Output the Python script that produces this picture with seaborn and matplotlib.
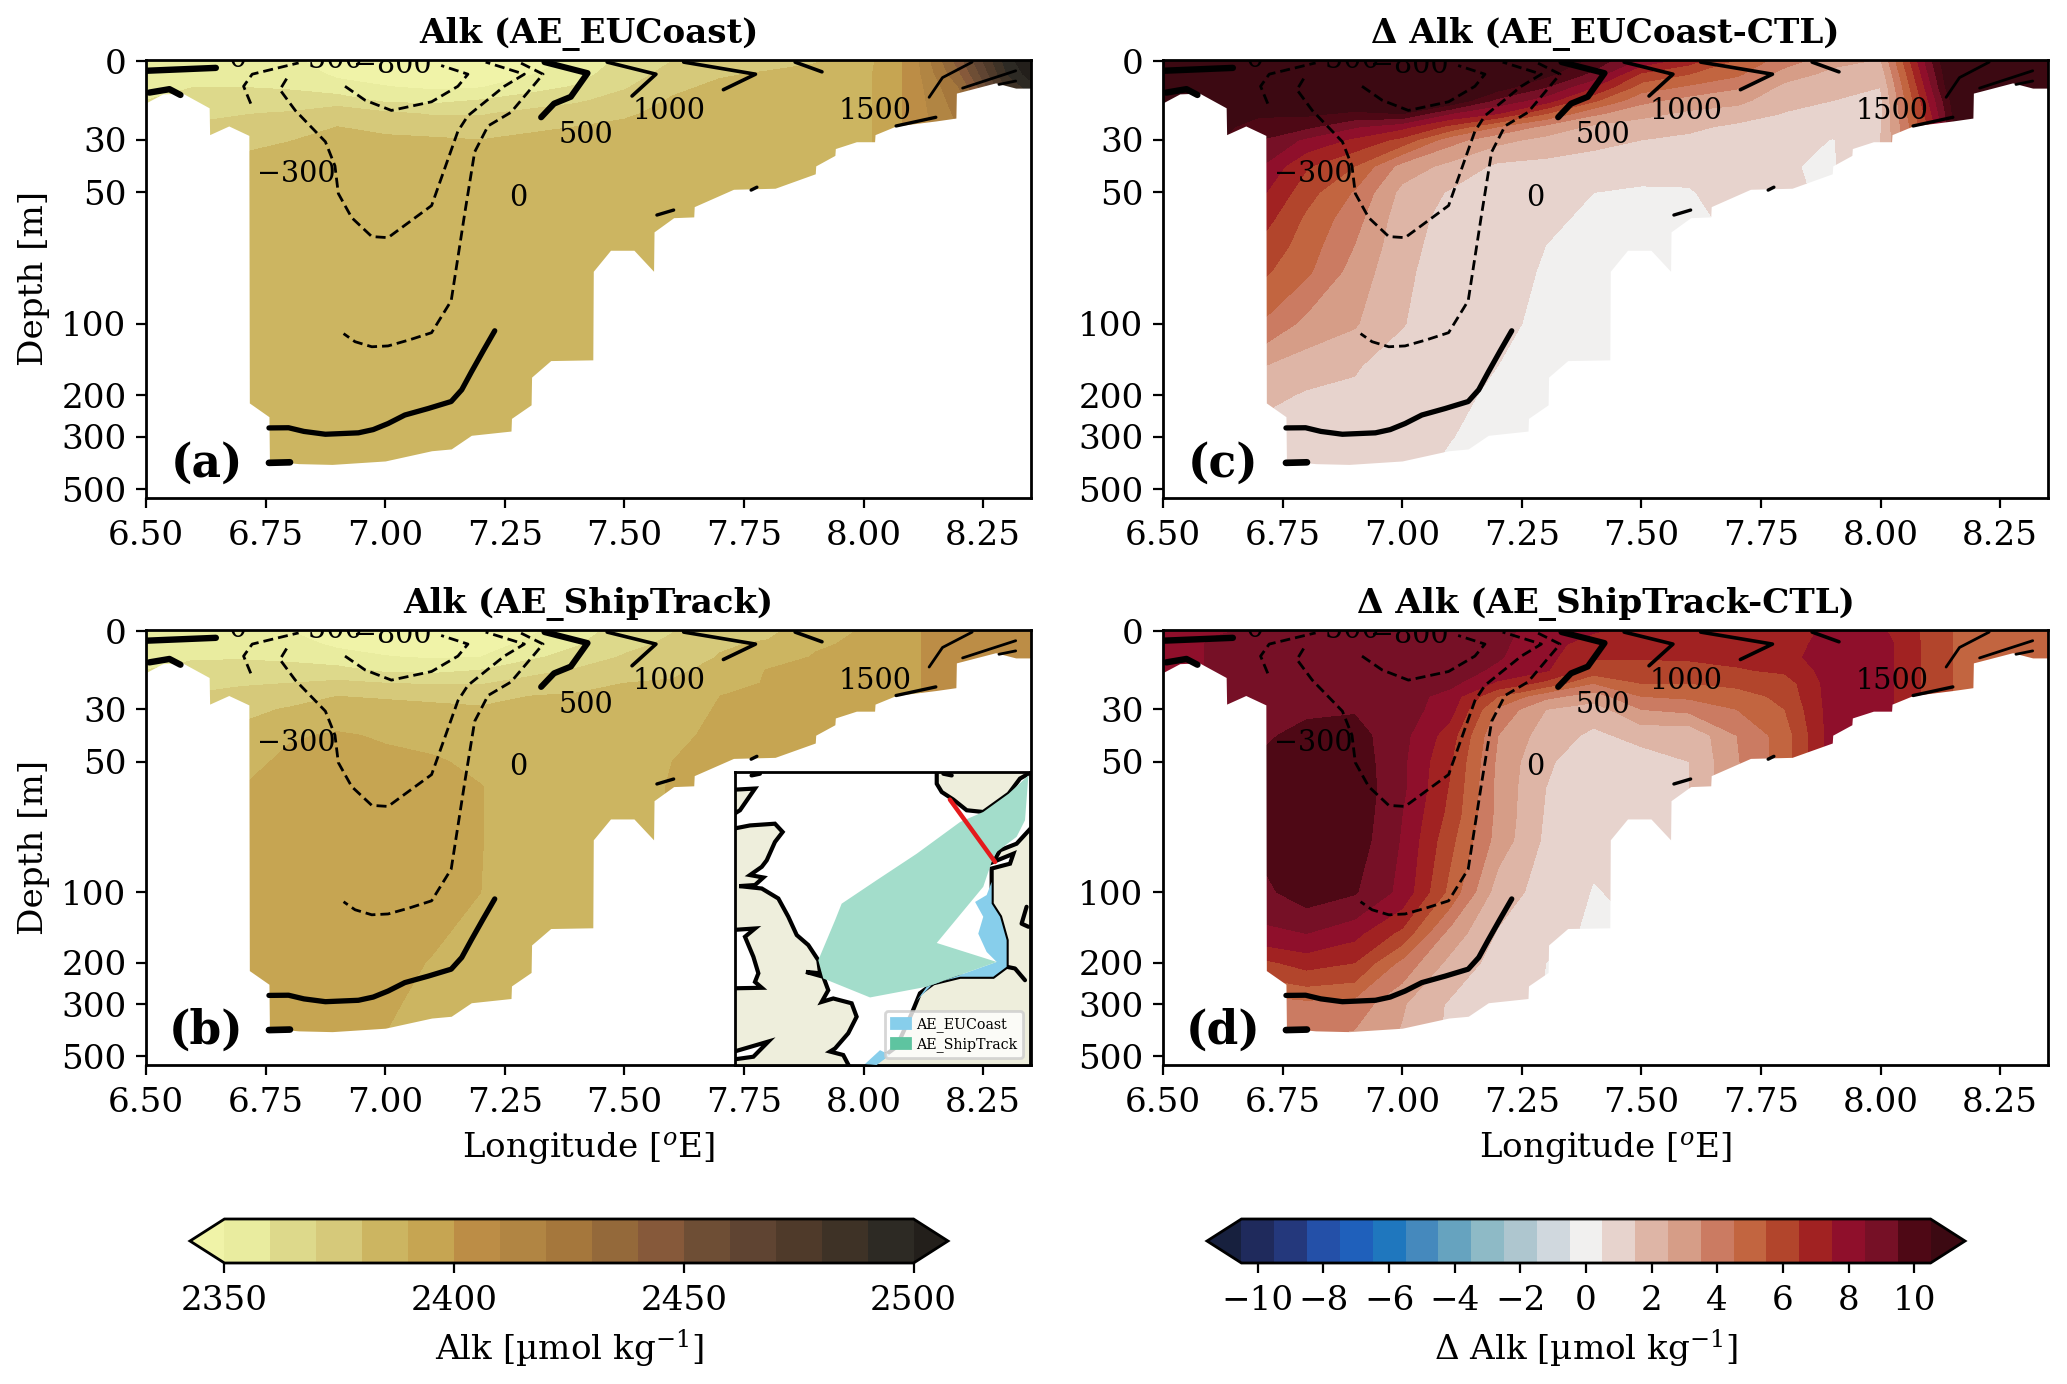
import matplotlib
matplotlib.use("Agg")
import matplotlib.pyplot as plt
from matplotlib.colors import BoundaryNorm, ListedColormap
from matplotlib.patches import Patch
import numpy as np
import seaborn as sns

# grid the sections are read on
lons = [6.5, 6.6, 6.7, 6.8, 6.9, 7.0, 7.1, 7.2, 7.3, 7.4, 7.5, 7.6, 7.7, 7.8, 7.9, 8.0, 8.1, 8.2, 8.3, 8.35]
depths = [0, 5, 10, 15, 20, 25, 30, 40, 50, 60, 70, 80, 100, 150, 200, 300, 400, 550]

# one row per longitude, one value per depth
alk_eucoast = [
    [2355, 2356, 2358, 2360, 2363, 2368, 2372, 2378, 2384, 2385, 2385, 2385, 2385, 2385, 2385, 2385, 2385, 2385],
    [2355, 2357, 2360, 2364, 2368, 2371, 2376, 2381, 2384, 2385, 2385, 2385, 2385, 2385, 2385, 2385, 2385, 2385],
    [2354, 2357, 2360, 2365, 2369.5, 2373, 2378, 2382, 2384, 2385, 2385, 2385, 2385, 2385, 2385, 2385, 2385, 2385],
    [2352, 2356, 2359, 2364, 2371, 2376, 2379.7, 2384, 2385, 2385, 2385, 2385, 2385, 2385, 2385, 2385, 2385, 2385],
    [2345, 2348, 2354, 2365, 2376, 2380, 2382, 2385, 2385, 2385, 2385, 2385, 2385, 2385, 2385, 2385, 2385, 2385],
    [2343, 2346, 2350.5, 2358, 2372, 2377, 2382, 2385, 2385, 2385, 2385, 2385, 2385, 2385, 2385, 2385, 2385, 2385],
    [2343, 2346, 2348.5, 2357, 2369, 2376, 2381, 2385, 2385, 2385, 2385, 2385, 2385, 2385, 2385, 2385, 2385, 2385],
    [2343, 2346, 2349.5, 2360.5, 2369, 2375, 2380, 2385, 2385, 2385, 2385, 2385, 2385, 2385, 2385, 2385, 2385, 2385],
    [2345, 2349, 2356.5, 2364, 2373, 2378, 2382, 2385, 2385, 2385, 2385, 2385, 2385, 2385, 2385, 2385, 2385, 2385],
    [2352, 2356, 2361, 2368.5, 2375, 2380, 2383, 2385, 2385, 2385, 2385, 2385, 2385, 2385, 2385, 2385, 2385, 2385],
    [2363, 2366, 2369, 2374, 2378.5, 2382, 2384, 2385, 2385, 2385, 2385, 2385, 2385, 2385, 2385, 2385, 2385, 2385],
    [2370, 2373, 2378, 2381, 2383, 2384, 2385, 2385, 2385, 2385, 2385, 2385, 2385, 2385, 2385, 2385, 2385, 2385],
    [2374, 2379, 2382, 2383, 2384, 2385, 2385, 2385, 2385, 2385, 2385, 2385, 2385, 2385, 2385, 2385, 2385, 2385],
    [2377, 2381, 2383, 2384, 2385, 2385, 2385, 2385, 2385, 2385, 2385, 2385, 2385, 2385, 2385, 2385, 2385, 2385],
    [2379.5, 2382, 2384, 2385, 2385, 2385, 2385, 2385, 2385, 2385, 2385, 2385, 2385, 2385, 2385, 2385, 2385, 2385],
    [2386, 2387, 2387, 2387, 2387, 2387, 2387, 2387, 2387, 2387, 2387, 2387, 2387, 2387, 2387, 2387, 2387, 2387],
    [2403, 2403, 2403, 2403, 2403, 2403, 2403, 2403, 2403, 2403, 2403, 2403, 2403, 2403, 2403, 2403, 2403, 2403],
    [2445, 2438, 2430, 2426, 2423, 2420, 2420, 2420, 2420, 2420, 2420, 2420, 2420, 2420, 2420, 2420, 2420, 2420],
    [2495, 2490, 2480, 2470, 2470, 2470, 2470, 2470, 2470, 2470, 2470, 2470, 2470, 2470, 2470, 2470, 2470, 2470],
    [2510, 2505, 2495, 2490, 2490, 2490, 2490, 2490, 2490, 2490, 2490, 2490, 2490, 2490, 2490, 2490, 2490, 2490],
]

alk_shiptrack = [
    [2353, 2355, 2358, 2360, 2364, 2368, 2372, 2378, 2382, 2383, 2383, 2383, 2383, 2383, 2383, 2383, 2383, 2383],
    [2353, 2355, 2359, 2363, 2367, 2371, 2376, 2380, 2383, 2386, 2388, 2388, 2388, 2388, 2388, 2388, 2388, 2388],
    [2352, 2355, 2359, 2364, 2369, 2373, 2377, 2383, 2387, 2390, 2392, 2392, 2392, 2392, 2392, 2392, 2392, 2392],
    [2350, 2354, 2358, 2363, 2370, 2375, 2381, 2389, 2392, 2393, 2393, 2393, 2393, 2393, 2393, 2393, 2393, 2393],
    [2345, 2348, 2354, 2363, 2372, 2380, 2384, 2391, 2393, 2393, 2393, 2393, 2393, 2393, 2393, 2393, 2393, 2393],
    [2343, 2346, 2350.5, 2358, 2370, 2379, 2383, 2389, 2392, 2393, 2393, 2393, 2393, 2393, 2392.5, 2391, 2390, 2390],
    [2343, 2346, 2349, 2357, 2369, 2378, 2382, 2387, 2391, 2393, 2393, 2393, 2392.5, 2391, 2389.5, 2388, 2387, 2387],
    [2343, 2346, 2350, 2360, 2369, 2377, 2381, 2385, 2388, 2390.3, 2390.3, 2390.3, 2390, 2388, 2387, 2386, 2386, 2386],
    [2348, 2352, 2358, 2366, 2374, 2380, 2382, 2384, 2385, 2385, 2385, 2385, 2385, 2385, 2385, 2385, 2385, 2385],
    [2356, 2359, 2364, 2371, 2377, 2381, 2383, 2385, 2386, 2386, 2386, 2386, 2386, 2386, 2386, 2386, 2386, 2386],
    [2364, 2367, 2371, 2376, 2380, 2382, 2384, 2386, 2387, 2387, 2387, 2387, 2387, 2387, 2387, 2387, 2387, 2387],
    [2369.5, 2372, 2375, 2378, 2381, 2383, 2385, 2388, 2390, 2390.5, 2390.5, 2390.5, 2390.5, 2390.5, 2390.5, 2390.5, 2390.5, 2390.5],
    [2378, 2379, 2380.5, 2383, 2385, 2390, 2391, 2392, 2393, 2393, 2393, 2393, 2393, 2393, 2393, 2393, 2393, 2393],
    [2378, 2381, 2384, 2390.5, 2391, 2392, 2393, 2393, 2393, 2393, 2393, 2393, 2393, 2393, 2393, 2393, 2393, 2393],
    [2385, 2388.5, 2391, 2392, 2393, 2393, 2393, 2393, 2393, 2393, 2393, 2393, 2393, 2393, 2393, 2393, 2393, 2393],
    [2391, 2392, 2393, 2393, 2393, 2393, 2393, 2393, 2393, 2393, 2393, 2393, 2393, 2393, 2393, 2393, 2393, 2393],
    [2399, 2399, 2399, 2399, 2399, 2399, 2399, 2399, 2399, 2399, 2399, 2399, 2399, 2399, 2399, 2399, 2399, 2399],
    [2404, 2404, 2404, 2404, 2404, 2404, 2404, 2404, 2404, 2404, 2404, 2404, 2404, 2404, 2404, 2404, 2404, 2404],
    [2406, 2406, 2406, 2406, 2406, 2406, 2406, 2406, 2406, 2406, 2406, 2406, 2406, 2406, 2406, 2406, 2406, 2406],
    [2406, 2406, 2406, 2406, 2406, 2406, 2406, 2406, 2406, 2406, 2406, 2406, 2406, 2406, 2406, 2406, 2406, 2406],
]

dalk_eucoast = [
    [12, 12, 12, 12, 12, 11, 11, 10, 10, 10, 10, 10, 10, 10, 10, 10, 10, 10],
    [13, 13, 12.5, 12, 11.5, 11, 10.8, 10, 9, 8, 7, 6, 5, 3, 2, 1, 1, 1],
    [13, 13, 12, 11.5, 10.7, 10.0, 9.5, 8.6, 7.8, 7.1, 6.4, 5.8, 4.5, 2.6, 1.8, 1.1, 1, 1],
    [13, 13, 12.5, 11.5, 10.7, 9.7, 8.3, 6.6, 5.9, 5.3, 5.0, 4.7, 3.2, 1.9, 1.4, 1.1, 0.9, 0.9],
    [13, 13, 12.5, 11.5, 10.3, 8.6, 7.3, 5.5, 4.4, 3.9, 3.5, 3.1, 2.6, 1.6, 1.3, 1.0, 0.8, 0.8],
    [13, 13, 12.5, 11.5, 10.5, 7.8, 6.2, 3.1, 2.2, 1.9, 1.8, 1.7, 1.55, 1.0, 0.9, 0.8, 0.7, 0.7],
    [13, 12.5, 12, 11.5, 8.5, 6.2, 3.9, 2.2, 1.4, 1.2, 1.1, 1.0, 0.9, 0.8, 0.7, 0.52, 0.4, 0.4],
    [12.5, 12, 11, 9.2, 7.5, 4.5, 2.8, 1.3, 1.1, 1.0, 0.95, 0.9, 0.7, 0.5, 0.35, 0.3, 0.3, 0.3],
    [11.5, 10.8, 9.5, 8, 5.5, 3.2, 2.2, 1.2, 0.9, 0.7, 0.5, 0.4, 0.3, 0.3, 0.3, 0.3, 0.3, 0.3],
    [10.2, 9.2, 7.5, 5.7, 3.7, 2.3, 1.8, 1.05, 0.5, 0.3, 0.3, 0.3, 0.3, 0.3, 0.3, 0.3, 0.3, 0.3],
    [8.2, 6.3, 5.0, 3.8, 2.8, 2.0, 1.5, 0.65, 0.45, 0.3, 0.3, 0.3, 0.3, 0.3, 0.3, 0.3, 0.3, 0.3],
    [6.9, 5.5, 4.3, 3.1, 2.3, 1.7, 1.3, 0.7, 0.45, 0.3, 0.3, 0.3, 0.3, 0.3, 0.3, 0.3, 0.3, 0.3],
    [5.3, 4.7, 3.6, 2.8, 2.0, 1.3, 1.1, 0.9, 0.8, 0.7, 0.7, 0.7, 0.7, 0.7, 0.7, 0.7, 0.7, 0.7],
    [4.0, 3.0, 2.2, 1.8, 1.45, 1.2, 1.0, 0.55, 0.6, 0.6, 0.6, 0.6, 0.6, 0.6, 0.6, 0.6, 0.6, 0.6],
    [2.8, 2.2, 1.7, 1.5, 1.2, 0.9, 0.45, 0.4, 0.4, 0.4, 0.4, 0.4, 0.4, 0.4, 0.4, 0.4, 0.4, 0.4],
    [2.4, 1.9, 1.5, 1.3, 1.3, 1.4, 1.5, 1.5, 1.5, 1.5, 1.5, 1.5, 1.5, 1.5, 1.5, 1.5, 1.5, 1.5],
    [9, 8.5, 8, 7.5, 7, 6.5, 6, 6, 6, 6, 6, 6, 6, 6, 6, 6, 6, 6],
    [15, 15, 15, 14, 14, 14, 14, 14, 14, 14, 14, 14, 14, 14, 14, 14, 14, 14],
    [15, 15, 15, 15, 15, 15, 15, 15, 15, 15, 15, 15, 15, 15, 15, 15, 15, 15],
    [15, 15, 15, 15, 15, 15, 15, 15, 15, 15, 15, 15, 15, 15, 15, 15, 15, 15],
]

dalk_shiptrack = [
    [7.9, 7.9, 7.9, 7.9, 7.9, 7.9, 7.9, 7.9, 7.9, 7.9, 7.9, 7.9, 7.9, 7.9, 7.9, 7.9, 7.9, 7.9],
    [8.4, 8.6, 8.6, 8.6, 8.6, 8.7, 8.8, 9.0, 9.2, 9.4, 9.4, 9.4, 9.2, 8.3, 6.2, 4.0, 3.9, 3.9],
    [8.6, 8.7, 8.8, 8.9, 9.0, 9.0, 9.1, 9.3, 9.6, 9.8, 9.9, 9.7, 9.2, 8.2, 6.2, 4.0, 3.9, 3.8],
    [8.8, 8.9, 9.0, 9.0, 9.1, 9.2, 9.3, 9.8, 10.1, 10.2, 10.2, 10.2, 10.0, 8.5, 6.9, 4.2, 3.7, 3.6],
    [8.9, 8.9, 9.0, 9.0, 9.1, 9.2, 9.4, 9.9, 10.1, 10.2, 10.2, 10.1, 9.6, 7.8, 6.5, 4.1, 3.4, 3.4],
    [9, 9, 9, 9, 9, 9, 9, 8.8, 8.7, 8.7, 8.5, 8.4, 8.2, 6.2, 4.2, 2.6, 2.4, 2.4],
    [9, 9, 9, 9, 8.8, 8.1, 7.9, 7.0, 6.6, 6.4, 6.2, 5.8, 5.2, 3.1, 2.2, 1.35, 1.3, 1.3],
    [8.8, 8.7, 8.6, 8.3, 7.3, 5.5, 4.3, 3.5, 3.3, 3.2, 3.2, 3.1, 2.0, 1.4, 1.1, 0.9, 0.8, 0.8],
    [8, 7.9, 7.8, 7.6, 6.2, 3.8, 2.5, 2, 1.6, 1.5, 1.4, 1.3, 1.1, 0.7, 0.5, 0.45, 0.45, 0.45],
    [7.6, 7, 6.6, 6.1, 4.5, 3, 2, 1.3, 1.1, 1, 0.9, 0.7, 0.45, 0.4, 0.4, 0.4, 0.4, 0.4],
    [7.1, 7, 6.6, 6, 5.5, 4.5, 3.5, 1.8, 1.1, 1, 1, 0.9, 0.7, 0.5, 0.5, 0.5, 0.5, 0.5],
    [7, 7, 6.7, 6, 5.5, 4.7, 3.8, 1.7, 1.5, 1.5, 1.5, 1.5, 1.5, 1.5, 1.5, 1.5, 1.5, 1.5],
    [7, 7, 6.8, 6.4, 5.8, 5.0, 4.5, 3.5, 3.4, 3.4, 3.4, 3.4, 3.4, 3.4, 3.4, 3.4, 3.4, 3.4],
    [7.1, 7.2, 7.2, 6.7, 6.0, 5.8, 5.5, 5.0, 5.0, 5.0, 5.0, 5.0, 5.0, 5.0, 5.0, 5.0, 5.0, 5.0],
    [7.7, 7.8, 8, 8, 8, 8, 8, 8, 8, 8, 8, 8, 8, 8, 8, 8, 8, 8],
    [7.7, 8, 8, 8, 8, 8, 8, 8, 8, 8, 8, 8, 8, 8, 8, 8, 8, 8],
    [6.2, 6.2, 6.2, 6.2, 6.2, 6.2, 6.2, 6.2, 6.2, 6.2, 6.2, 6.2, 6.2, 6.2, 6.2, 6.2, 6.2, 6.2],
    [4.8, 4.8, 4.8, 4.8, 4.8, 4.8, 4.8, 4.8, 4.8, 4.8, 4.8, 4.8, 4.8, 4.8, 4.8, 4.8, 4.8, 4.8],
    [4.9, 4.9, 4.9, 4.9, 4.9, 4.9, 4.9, 4.9, 4.9, 4.9, 4.9, 4.9, 4.9, 4.9, 4.9, 4.9, 4.9, 4.9],
    [5, 5, 5, 5, 5, 5, 5, 5, 5, 5, 5, 5, 5, 5, 5, 5, 5, 5],
]

seabed_lon = [6.50, 6.535, 6.576, 6.632, 6.633, 6.673, 6.715, 6.716, 6.757, 6.758, 6.819, 6.889, 7.0, 7.097, 7.138,
              7.18, 7.263, 7.264, 7.305, 7.306, 7.346, 7.434, 7.435, 7.471, 7.52, 7.561, 7.562, 7.603, 7.645, 7.646,
              7.728, 7.815, 7.899, 7.90, 7.94, 7.941, 7.985, 8.023, 8.024, 8.068, 8.151, 8.193, 8.194, 8.276, 8.318, 8.35]
seabed_depth = [15.9, 12.5, 12.2, 17.8, 28, 24.7, 28.3, 216, 247, 380, 390, 393, 380, 344, 338,
                296, 284, 251, 220, 168, 143, 142, 80, 72, 72, 80, 65, 59.6, 59.3, 55.4,
                48.8, 48.4, 42.9, 39.9, 35.9, 33.3, 30.7, 30.7, 28, 24.7, 22.8, 21.7, 12.2, 8.3, 10.3, 10.3]

# overlaid contour lines, shared by all four panels
line_a_lon, line_a_depth = [6.50, 6.646], [3.7, 2.6]
line_b_lon, line_b_depth = [6.507, 6.549, 6.572], [12.0, 10.7, 12.9]
line_c_lon, line_c_depth = [6.719, 6.704, 6.722, 6.819], [16.2, 9.6, 5.0, 0.7]
line_d_lon = [6.794, 6.780, 6.812, 6.875, 6.895, 6.902, 6.930, 6.972, 7.006, 7.097, 7.152, 7.173, 7.249, 7.291, 7.210]
line_d_depth = [6.7, 10.9, 18.8, 30.7, 39.9, 50.4, 59.6, 66.8, 67.2, 55, 26.7, 20.8, 9.6, 5, 0.4]
line_e_lon = [6.916, 6.958, 7.013, 7.097, 7.152, 7.173, 7.117]
line_e_depth = [9.6, 14.9, 18.8, 15.5, 9.6, 5, 1.7]
line_f_lon = [7.284, 7.330, 7.263, 7.215, 7.187, 7.166, 7.138, 7.097, 7.050, 7.006, 6.972, 6.937, 6.913]
line_f_depth = [0.8, 5, 19.5, 24.7, 34.6, 58.3, 91.2, 109, 117, 124, 125, 119, 110]
line_g_lon, line_g_depth = [7.333, 7.423, 7.388, 7.353, 7.326], [0.4, 4.6, 13.6, 16.2, 21.4]
line_h_lon, line_h_depth = [7.464, 7.566, 7.516], [0.4, 5, 13.3]
line_i_lon, line_i_depth = [7.624, 7.774, 7.707], [0.4, 5, 10.9]
line_j_lon, line_j_depth = [7.857, 7.913], [0.4, 4.1]
line_k_lon, line_k_depth = [8.227, 8.165, 8.137], [0.4, 6.3, 13.8]
line_l_lon, line_l_depth = [8.207, 8.318], [10.3, 3.7]
line_m_lon, line_m_depth = [8.283, 8.318], [8.9, 7.6]
line_n_lon, line_n_depth = [8.068, 8.151], [24.7, 21.4]
line_o_lon, line_o_depth = [7.568, 7.603], [58.6, 56.7]
line_p_lon, line_p_depth = [7.765, 7.777], [49.1, 48]
line_q_lon = [6.757, 6.798, 6.830, 6.875, 6.944, 6.975, 7.006, 7.041, 7.090, 7.138, 7.160, 7.18, 7.205, 7.229]
line_q_depth = [275.5, 275, 285, 293, 289, 280, 264, 243, 228, 213, 190, 160, 130, 107]
line_r_lon, line_r_depth = [6.757, 6.801], [387, 385]

line_labels = ["0", "\u2212500", "\u2212800", "500", "1000", "1500", "\u2212300", "0"]
label_lon = [6.69, 6.87, 7.014, 7.42, 7.594, 8.024, 6.815, 7.278]
label_depth = [-0.9, -0.5, 1.6, 28.2, 19.0, 19.0, 43.0, 52.0]

alk_colors = ["#e9ec9f", "#ddd98b", "#d6c97a", "#ccb561", "#c6a552", "#bc8d46", "#b18543", "#a5773c",
              "#94693a", "#86593a", "#6e4e35", "#5f4432", "#4f3a2a", "#3e3226", "#2d2a24"]
dalk_colors = ["#1f2a5c", "#24387c", "#2450a8", "#1f60bb", "#1f77be", "#4589bd", "#66a3bf", "#8ebac6",
               "#aec6cf", "#d0d8de", "#f1f0ef", "#e7d3cd", "#deb5a6", "#d69d87", "#cb7b62", "#c26540",
               "#b2452c", "#a12222", "#8f0f2b", "#761026", "#4e0815"]

# inset map, lon/lat (land runs past the frame so only the coast gets a line)
uk_lon = [-4.5, -3.34, -2.24, -1.90, -2.24, -2.60, -2.82, -3.34, -2.75, -3.12, -3.81, -2.82, -2.09, -1.65, -1.28, -0.77,
          -0.33, -0.25, -0.87, -0.11, 0.11, -0.18, 0.33, 1.14, 1.36, 0.99, 0.41, 0.19, 0.77, 1.4, -4.5]
uk_lat = [56.80, 56.95, 57.0, 56.76, 56.47, 55.94, 55.75, 55.51, 55.44, 55.22, 55.19, 55.12, 54.83, 54.30, 53.77, 53.48,
          53.04, 52.66, 52.70, 52.56, 52.17, 51.83, 51.93, 51.79, 51.40, 50.92, 50.48, 50.39, 50.29, 49.5, 49.5]
irish_lon = [-4.5, -3.12, -3.56, -3.19, -2.97, -3.12, -2.82, -4.5]
irish_lat = [53.90, 53.96, 53.72, 53.14, 52.66, 52.41, 52.24, 52.22]
bristol_lon = [-4.5, -2.53, -3.19, -4.5]
bristol_lat = [50.30, 50.68, 50.24, 50.12]
highland_lon = [-4.5, -3.12, -3.78, -4.5]
highland_lat = [57.97, 58.02, 57.39, 57.10]
norway_lon = [4.89, 4.89, 5.11, 5.62, 6.21, 6.94, 8.06, 8.56, 8.93, 9.5, 9.5, 4.89]
norway_lat = [59, 58.16, 57.92, 57.70, 57.39, 57.34, 57.87, 58.31, 58.45, 58.9, 59, 59]
europe_lon = [9.5, 8.41, 7.68, 7.38, 8.27, 8.12, 7.31, 7.31, 7.68, 7.97, 7.97, 7.38, 5.92, 4.74, 4.15, 3.79, 3.12, 1.0, 9.5]
europe_lat = [57.2, 56.42, 56.23, 55.89, 56.13, 55.84, 55.70, 54.68, 54.30, 53.62, 52.85, 52.56, 52.56, 52.37, 52.08,
              51.50, 50.53, 49.5, 49.5]
rhine_lon, rhine_lat = [7.97, 8.34, 8.78], [52.85, 52.80, 52.46]
lake_lon, lake_lat = [7.53, 7.60], [54.06, 53.72]
lagoon_lon, lagoon_lat = [8.85, 8.63, 8.93], [54.59, 54.10, 54.01]
skerry_lon, skerry_lat = [-3.27, -2.9], [58.40, 58.45]
fjord_lon, fjord_lat = [5.18, 5.55], [58.45, 58.40]
ship_lon = [8.93, 8.78, 8.41, 7.53, 7.31, 6.94, 4.89, 7.53, 4.45, 1.95, -0.11, -0.33, 0.41, 0.70, 2.24, 4.01, 5.92, 6.94, 8.06]
ship_lat = [58.40, 57.10, 56.62, 56.18, 55.89, 55.17, 53.54, 52.99, 52.27, 51.96, 52.51, 53.04, 54.20, 54.68, 55.36,
            56.13, 57.05, 57.34, 57.87]
coast_lon = [7.31, 7.09, 6.58, 6.94, 6.72, 7.09, 7.53, 4.45, 4.0, 4.74, 5.92, 7.38, 7.97, 7.97, 7.68, 7.31]
coast_lat = [55.31, 54.93, 54.73, 54.30, 53.81, 53.28, 52.99, 52.27, 51.86, 52.37, 52.56, 52.56, 52.85, 53.62, 54.30, 54.68]
channel_lon, channel_lat = [1.73, 2.39, 2.83, 2.24], [50.03, 50.43, 50.29, 50]
section_lon, section_lat = [5.47, 7.46], [57.70, 55.89]

FIG_W, FIG_H = 2067, 1384


def px_axes(fig, left, top, right, bottom):
    return fig.add_axes([left / FIG_W, 1 - bottom / FIG_H, (right - left) / FIG_W, (bottom - top) / FIG_H])


def draw_section(ax, field, levels, cmap, norm, title, tag):
    x, y = np.meshgrid(lons, depths)
    cs = ax.contourf(x, y, np.array(field).T, levels=levels, cmap=cmap, norm=norm, extend="both", zorder=1)
    ax.fill_between(seabed_lon, seabed_depth, 600, color="white", lw=0, zorder=2)

    solid = [
        (line_a_lon, line_a_depth, 2.3), (line_b_lon, line_b_depth, 2.3), (line_g_lon, line_g_depth, 2.2),
        (line_h_lon, line_h_depth, 1.3), (line_i_lon, line_i_depth, 1.3), (line_j_lon, line_j_depth, 1.3),
        (line_k_lon, line_k_depth, 1.0), (line_l_lon, line_l_depth, 1.0), (line_m_lon, line_m_depth, 1.0),
        (line_n_lon, line_n_depth, 1.2), (line_o_lon, line_o_depth, 1.2), (line_p_lon, line_p_depth, 1.2),
        (line_q_lon, line_q_depth, 1.9), (line_r_lon, line_r_depth, 2.4),
    ]
    dashed = [(line_c_lon, line_c_depth), (line_d_lon, line_d_depth), (line_e_lon, line_e_depth), (line_f_lon, line_f_depth)]
    for lon, depth, lw in solid:
        ax.plot(lon, depth, color="black", lw=lw, zorder=3)
    for lon, depth in dashed:
        ax.plot(lon, depth, color="black", lw=1.0, ls=(0, (3.6, 1.8)), zorder=3)
    for text, lon, depth in zip(line_labels, label_lon, label_depth):
        ax.text(lon, depth, text, fontsize=10.3, ha="center", va="center", clip_on=True, zorder=4)

    ax.set_yscale("symlog", linthresh=100, linscale=1)
    ax.set_ylim(545, -0.4)
    ax.set_xlim(6.5, 8.35)
    ax.set_xticks([6.5, 6.75, 7.0, 7.25, 7.5, 7.75, 8.0, 8.25])
    ax.set_xticklabels(["6.50", "6.75", "7.00", "7.25", "7.50", "7.75", "8.00", "8.25"])
    ax.set_yticks([0, 30, 50, 100, 200, 300, 500])
    ax.set_yticklabels(["0", "30", "50", "100", "200", "300", "500"])
    ax.yaxis.set_minor_locator(plt.NullLocator())
    ax.set_title(title, fontweight="bold", fontsize=12.3, pad=6)
    ax.text(0.0685, 0.078, tag, transform=ax.transAxes, fontsize=16.4, fontweight="bold", ha="center", va="center", zorder=4)
    return cs


def draw_inset(ax):
    inset = ax.inset_axes([(735 - 146) / 885, 0, 295 / 885, 293 / 435], zorder=5)
    inset.set_xlim(-4, 9)
    inset.set_ylim(50, 58.5)
    inset.set_xticks([])
    inset.set_yticks([])
    land = "#eeeedc"
    for lon, lat in [(uk_lon, uk_lat), (highland_lon, highland_lat), (norway_lon, norway_lat), (europe_lon, europe_lat)]:
        inset.fill(lon, lat, facecolor=land, edgecolor="black", lw=1.5, zorder=1)
    for lon, lat in [(irish_lon, irish_lat), (bristol_lon, bristol_lat)]:
        inset.fill(lon, lat, facecolor="white", edgecolor="black", lw=1.5, zorder=2)
    for lon, lat in [(rhine_lon, rhine_lat), (lake_lon, lake_lat), (lagoon_lon, lagoon_lat), (skerry_lon, skerry_lat), (fjord_lon, fjord_lat)]:
        inset.plot(lon, lat, color="black", lw=1.5, zorder=2)
    inset.fill(coast_lon, coast_lat, color="#87ceeb", lw=0, zorder=3)
    inset.fill(channel_lon, channel_lat, color="#87ceeb", lw=0, zorder=3)
    inset.fill(ship_lon, ship_lat, color="#a3ddcb", lw=0, zorder=4)
    inset.plot(section_lon, section_lat, color="#e41a1c", lw=1.6, zorder=5)
    inset.set_xlim(-4, 9)
    inset.set_ylim(50, 58.5)
    inset.legend(
        handles=[Patch(color="#87ceeb", label="AE_EUCoast"), Patch(color="#5ec4a0", label="AE_ShipTrack")],
        loc="lower right", fontsize=5.1, borderpad=0.4, labelspacing=0.4, handlelength=1.4, handletextpad=0.4,
    )


def main():
    sns.set_theme(
        style="ticks",
        font="DejaVu Serif",
        rc={"mathtext.fontset": "dejavuserif", "axes.linewidth": 1.0, "xtick.labelsize": 12.3, "ytick.labelsize": 12.3,
            "axes.labelsize": 12.3, "xtick.major.width": 0.8, "ytick.major.width": 0.8, "xtick.major.size": 3.5,
            "ytick.major.size": 3.5, "xtick.major.pad": 4.5, "text.color": "black", "axes.labelcolor": "black",
            "xtick.color": "black", "ytick.color": "black", "axes.edgecolor": "black"},
    )
    fig = plt.figure(figsize=(FIG_W / 200, FIG_H / 200), dpi=200)

    alk_levels = np.arange(2350, 2501, 10)
    dalk_levels = np.arange(-10.5, 10.6, 1)
    alk_cmap = ListedColormap(sns.color_palette(alk_colors))
    alk_cmap.set_under("#f0f3a8")
    alk_cmap.set_over("#231f1b")
    dalk_cmap = ListedColormap(sns.color_palette(dalk_colors))
    dalk_cmap.set_under("#17203e")
    dalk_cmap.set_over("#3c0912")
    alk_norm = BoundaryNorm(alk_levels, len(alk_colors))
    dalk_norm = BoundaryNorm(dalk_levels, len(dalk_colors))

    ax_a = px_axes(fig, 146, 60, 1031, 498)
    ax_b = px_axes(fig, 146, 630, 1031, 1065)
    ax_c = px_axes(fig, 1163, 60, 2048, 498)
    ax_d = px_axes(fig, 1163, 630, 2048, 1065)

    cs_alk = draw_section(ax_a, alk_eucoast, alk_levels, alk_cmap, alk_norm, "Alk (AE_EUCoast)", "(a)")
    draw_section(ax_b, alk_shiptrack, alk_levels, alk_cmap, alk_norm, "Alk (AE_ShipTrack)", "(b)")
    cs_dalk = draw_section(ax_c, dalk_eucoast, dalk_levels, dalk_cmap, dalk_norm, "\u0394 Alk (AE_EUCoast-CTL)", "(c)")
    draw_section(ax_d, dalk_shiptrack, dalk_levels, dalk_cmap, dalk_norm, "\u0394 Alk (AE_ShipTrack-CTL)", "(d)")
    draw_inset(ax_b)

    ax_a.set_ylabel("Depth [m]")
    ax_b.set_ylabel("Depth [m]")
    ax_b.set_xlabel("Longitude [$^o$E]")
    ax_d.set_xlabel("Longitude [$^o$E]")

    cax_alk = px_axes(fig, 190, 1219, 948, 1263)
    cb_alk = fig.colorbar(cs_alk, cax=cax_alk, orientation="horizontal", extendfrac=0.05, ticks=[2350, 2400, 2450, 2500])
    cb_alk.minorticks_off()
    cb_alk.set_label("Alk [\u00b5mol kg$^{-1}$]")
    cax_dalk = px_axes(fig, 1207, 1219, 1965, 1263)
    cb_dalk = fig.colorbar(cs_dalk, cax=cax_dalk, orientation="horizontal", extendfrac=0.05, ticks=list(range(-10, 11, 2)))
    cb_dalk.minorticks_off()
    cb_dalk.set_label("\u0394 Alk [\u00b5mol kg$^{-1}$]")

    fig.savefig("out.png", dpi=200)


if __name__ == "__main__":
    main()
